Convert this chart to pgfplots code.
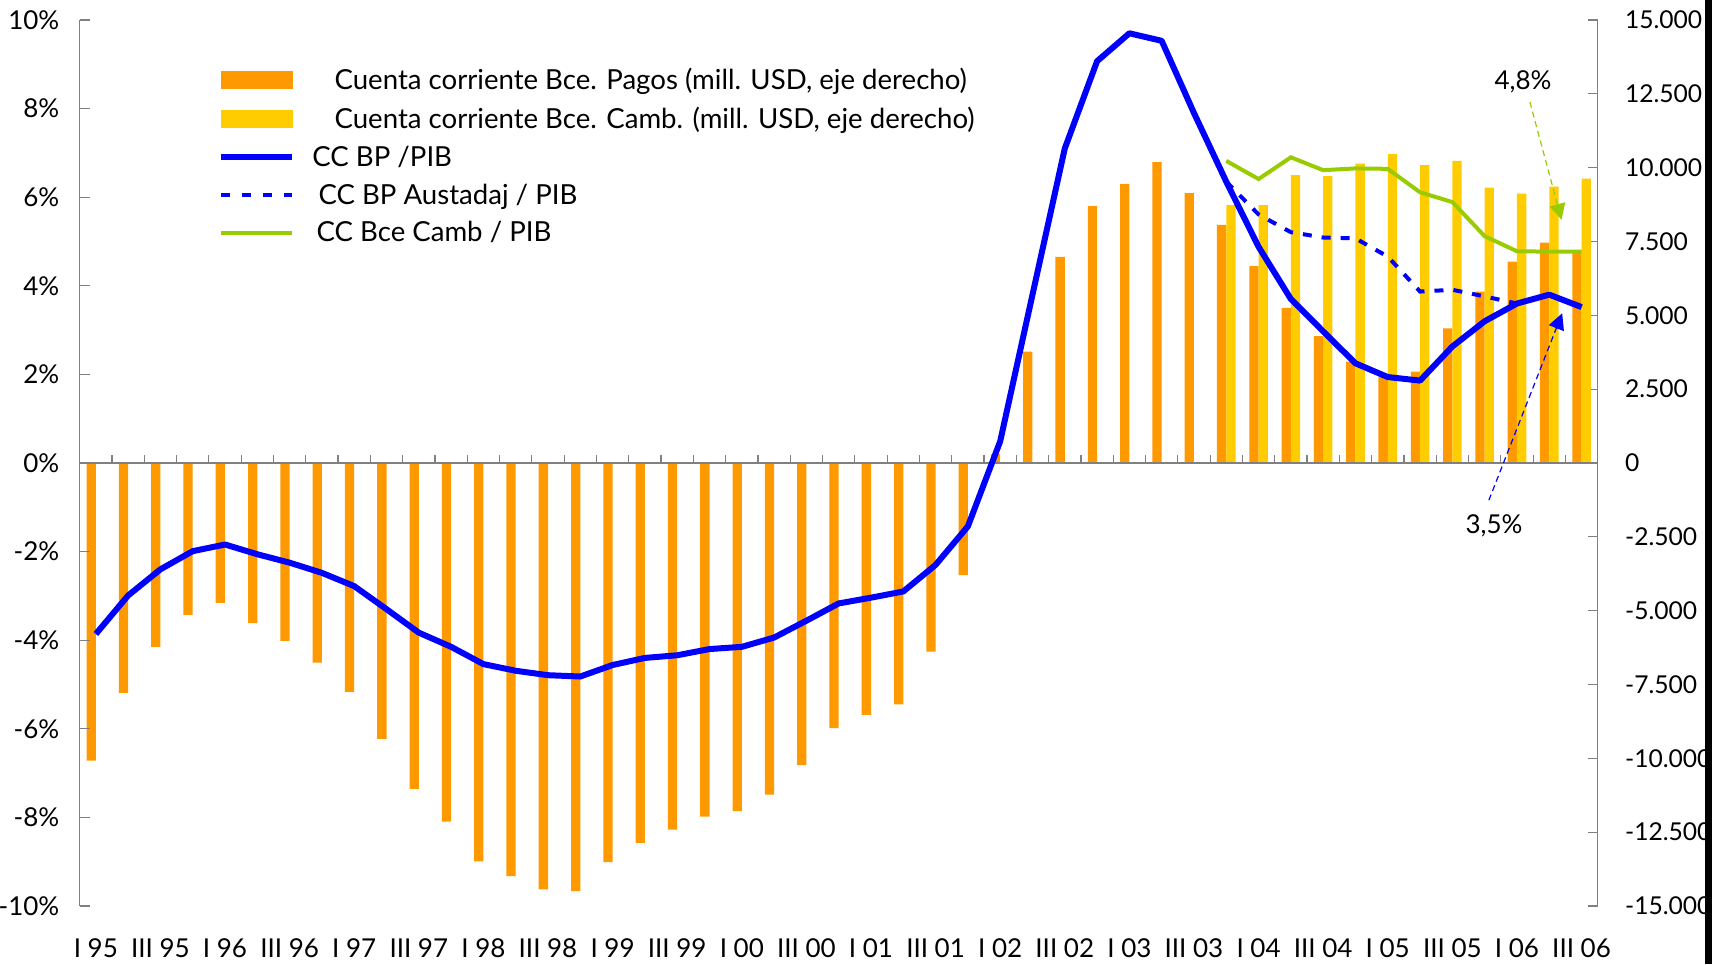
\documentclass[border=0pt]{standalone}
\usepackage{fontspec}
\setmainfont{Lato}
\usepackage{pgfplots}
\pgfplotsset{compat=1.18}
\usetikzlibrary{arrows.meta}
\definecolor{cOr}{HTML}{FF9900}
\definecolor{cYe}{HTML}{FFCC00}
\definecolor{cBl}{HTML}{0000FF}
\definecolor{cGr}{HTML}{99CC00}
\definecolor{cAx}{HTML}{808080}
\newcommand{\tf}{\fontsize{13}{15}\selectfont}
\newcommand{\lf}{\fontsize{13.8}{16}\selectfont}
\newcommand{\rf}{\fontsize{12.3}{14}\selectfont}
\pgfplotsset{
  base/.style={
    scale only axis, width=759pt, height=443pt,
    xmin=-0.5, xmax=46.5,
    at={(0pt,0pt)}, anchor=south west,
    tick align=inside, major tick length=5pt,
    every tick/.style={cAx, line width=0.6pt},
    tick label style={font=\tf},
  }
}
\begin{document}
\begin{tikzpicture}
% ---------- bars, right axis (mill. USD) ----------
\begin{axis}[base,
  axis y line*=right, axis x line=none,
  xtick=\empty,
  y axis line style={cAx, line width=0.6pt},
  ymin=-15000, ymax=15000,
  ytick={-15000,-12500,-10000,-7500,-5000,-2500,0,2500,5000,7500,10000,12500,15000},
  yticklabels={-15.000,-12.500,-10.000,-7.500,-5.000,-2.500,0,2.500,5.000,7.500,10.000,12.500,15.000},
  yticklabel style={font=\rf, anchor=west, inner sep=0pt, xshift=13.5pt},
  ybar=0pt, bar width=4.65pt,
]
\addplot[fill=cOr, draw=none] coordinates {
(0,-10080) (1,-7780) (2,-6230) (3,-5140) (4,-4735) (5,-5420) (6,-6020) (7,-6760)
(8,-7750) (9,-9340) (10,-11030) (11,-12140) (12,-13485) (13,-13990) (14,-14440) (15,-14500)
(16,-13515) (17,-12860) (18,-12410) (19,-11970) (20,-11790) (21,-11230) (22,-10230) (23,-8980)
(24,-8530) (25,-8170) (26,-6390) (27,-3800) (28,300) (29,3770) (30,6980) (31,8700)
(32,9450) (33,10190) (34,9140) (35,8060) (36,6670) (37,5250) (38,4300) (39,3430)
(40,2920) (41,3090) (42,4560) (43,5800) (44,6820) (45,7465) (46,7145)
};
\addplot[fill=cYe, draw=none] coordinates {
(35,8735) (36,8735) (37,9745) (38,9715) (39,10140) (40,10455) (41,10085)
(42,10234) (43,9325) (44,9120) (45,9360) (46,9630)
};
\end{axis}
% ---------- lines, left axis (%) ----------
\begin{axis}[base, clip=false,
  axis y line*=left, axis x line*=bottom,
  x axis line style={draw=none},
  y axis line style={cAx, line width=0.6pt},
  xtick style={draw=none},
  ymin=-10, ymax=10,
  ytick={-10,-8,-6,-4,-2,0,2,4,6,8,10},
  yticklabels={-10\%,-8\%,-6\%,-4\%,-2\%,0\%,2\%,4\%,6\%,8\%,10\%},
  yticklabel style={anchor=east, inner sep=0pt, xshift=-10pt},
  xtick={0,2,...,46},
  xticklabels={I 95,III 95,I 96,III 96,I 97,III 97,I 98,III 98,I 99,III 99,I 00,III 00,I 01,III 01,I 02,III 02,I 03,III 03,I 04,III 04,I 05,III 05,I 06,III 06},
  xticklabel style={anchor=base, inner sep=0pt, yshift=-25.5pt},
  legend style={at={(axis description cs:0,1)}, anchor=north west,
    xshift=68.95pt, yshift=-21.7pt, draw=none, fill=none, inner sep=0pt,
    row sep=3.3pt, font=\lf},
  legend cell align=left,
]
% zero line with category ticks
\draw[cAx, line width=0.6pt] (axis cs:-0.5,0) -- (axis cs:46.5,0);
\pgfplotsinvokeforeach{0,...,45}{\draw[cAx, line width=0.6pt] (axis cs:#1.5,0) -- ++(0pt,4pt);}
% legend entries
\addlegendimage{legend image code/.code={\fill[cOr] (0pt,-4.25pt) rectangle (35.5pt,4.25pt);}}
\addlegendentry{\hspace{17.8pt}Cuenta corriente Bce. Pagos (mill. USD, eje derecho)}
\addlegendimage{legend image code/.code={\fill[cYe] (0pt,-4.25pt) rectangle (35.5pt,4.25pt);}}
\addlegendentry{\hspace{17.8pt}Cuenta corriente Bce. Camb. (mill. USD, eje derecho)}
\addlegendimage{legend image code/.code={\draw[cBl, line width=3pt] (0pt,0pt) -- (35.5pt,0pt);}}
\addlegendentry{\hspace{6.7pt}CC BP /PIB}
\addlegendimage{legend image code/.code={\draw[cBl, line width=2pt, dash pattern=on 4.5pt off 6pt] (0pt,0pt) -- (35.5pt,0pt);}}
\addlegendentry{\hspace{9.75pt}CC BP Austadaj / PIB}
\addlegendimage{legend image code/.code={\draw[cGr, line width=2pt] (0pt,0pt) -- (35.5pt,0pt);}}
\addlegendentry{\hspace{8.8pt}CC Bce Camb / PIB}
% data lines
\addplot[forget plot, cGr, line width=2pt] coordinates {
(35,6.82) (36,6.41) (37,6.90) (38,6.61) (39,6.65) (40,6.64) (41,6.11) (42,5.89)
(43,5.12) (44,4.78) (45,4.77) (46,4.77)
};
\addplot[forget plot, cBl, line width=2pt, dash pattern=on 4.5pt off 5pt] coordinates {
(35,6.35) (36,5.61) (37,5.21) (38,5.09) (39,5.07) (40,4.66) (41,3.87) (42,3.91)
(43,3.76) (44,3.60) (45,3.80) (46,3.52)
};
\addplot[forget plot, cBl, line width=3pt, line join=round] coordinates {
(0,-3.86) (1,-2.99) (2,-2.40) (3,-1.99) (4,-1.84) (5,-2.06) (6,-2.25) (7,-2.48)
(8,-2.78) (9,-3.30) (10,-3.83) (11,-4.15) (12,-4.54) (13,-4.69) (14,-4.79) (15,-4.82)
(16,-4.56) (17,-4.40) (18,-4.34) (19,-4.20) (20,-4.15) (21,-3.94) (22,-3.56) (23,-3.17)
(24,-3.04) (25,-2.90) (26,-2.30) (27,-1.43) (28,0.49) (29,3.80) (30,7.10) (31,9.07)
(32,9.70) (33,9.53) (34,7.90) (35,6.35) (36,4.88) (37,3.70) (38,2.97) (39,2.25)
(40,1.94) (41,1.86) (42,2.63) (43,3.20) (44,3.60) (45,3.80) (46,3.52)
};
% annotations
\node[font=\tf, inner sep=0pt] at (axis cs:44.19,8.60) {4,8\%};
\draw[cGr, line width=0.6pt, dash pattern=on 3pt off 2pt, -{Triangle[length=8pt,width=8pt]}]
  (axis cs:44.40,8.15) -- (axis cs:45.38,5.49);
\node[font=\tf, inner sep=0pt] at (axis cs:43.29,-1.41) {3,5\%};
\draw[cBl, line width=0.6pt, dash pattern=on 3pt off 2pt, -{Triangle[length=8pt,width=8pt]}]
  (axis cs:43.13,-0.84) -- (axis cs:45.40,3.38);
\end{axis}
\fill[black] (812.65pt,-29pt) rectangle (816.15pt,453pt);
\pgfresetboundingbox
\path[use as bounding box] (-39.85pt,-29pt) rectangle (816.15pt,453pt);
\end{tikzpicture}
\end{document}
